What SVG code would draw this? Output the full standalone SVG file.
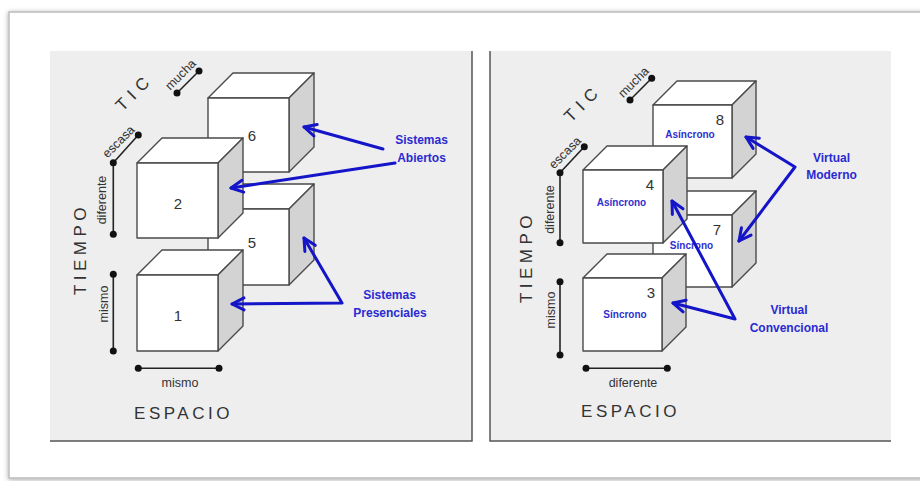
<svg xmlns="http://www.w3.org/2000/svg" width="920" height="481" viewBox="0 0 920 481">
<defs>
<filter id="sh" x="-5%" y="-5%" width="110%" height="110%"><feDropShadow dx="0" dy="1" stdDeviation="2.5" flood-color="#000" flood-opacity="0.35"/></filter>
<marker id="ah" markerUnits="userSpaceOnUse" orient="auto-start-reverse" markerWidth="30" markerHeight="30" refX="0" refY="0" viewBox="-15 -15 30 30" style="overflow:visible"><path d="M-12,-6 L0,0 L-12,6" fill="none" stroke="#1414c8" stroke-width="3" stroke-linecap="round" stroke-linejoin="round"/></marker>
</defs>
<style>
.face{fill:#ffffff;stroke:#4a4a4a;stroke-width:1.4;stroke-linejoin:round}
.side{fill:#d3d3d3;stroke:#4a4a4a;stroke-width:1.4;stroke-linejoin:round}
.num{font-family:"Liberation Sans",Arial,sans-serif;font-size:15px;fill:#333;text-anchor:middle}
.mode{font-family:"Liberation Sans",Arial,sans-serif;font-size:10px;font-weight:bold;fill:#3030d0;text-anchor:middle}
.ax{font-family:"Liberation Sans",Arial,sans-serif;font-size:12.5px;fill:#333;text-anchor:middle}
.big{font-family:"Liberation Sans",Arial,sans-serif;font-size:17px;fill:#333;text-anchor:middle}
.lab{font-family:"Liberation Sans",Arial,sans-serif;font-size:12px;font-weight:bold;fill:#2a2ad2;text-anchor:middle}
.bar{stroke:#222;stroke-width:1.6;fill:none}
.dot{fill:#111}
.arr{fill:none;stroke:#1414c8;stroke-width:3;stroke-linejoin:round;stroke-linecap:round;marker-end:url(#ah)}
.arr2{fill:none;stroke:#1414c8;stroke-width:3;stroke-linejoin:round;stroke-linecap:round;marker-start:url(#ah);marker-end:url(#ah)}
</style>
<rect width="920" height="481" fill="#ffffff"/>
<rect x="9" y="12" width="940" height="466" fill="#ffffff" stroke="#bdbdbd" stroke-width="1.5" filter="url(#sh)"/>
<!-- panels -->
<g id="panel-left">
<rect x="50" y="51" width="422" height="390" fill="#eeeeee"/>
<path d="M472,51 V441 H50" fill="none" stroke="#555" stroke-width="1.5"/>
</g>
<g id="panel-right">
<rect x="490" y="51" width="401" height="390" fill="#eeeeee"/>
<path d="M490,51 V441 H891" fill="none" stroke="#555" stroke-width="1.5"/>
</g>

<!-- left axes -->
<g id="axes-left">
<text class="big" transform="translate(138.5,96) rotate(-45)" letter-spacing="6">TIC</text>
<line class="bar" x1="177" y1="93" x2="199" y2="71"/><circle class="dot" cx="177" cy="93" r="3.5"/><circle class="dot" cx="199" cy="71" r="3.5"/>
<text class="ax" transform="translate(183.5,77.5) rotate(-45)">mucha</text>
<line class="bar" x1="113.3" y1="162.7" x2="138.3" y2="135"/><circle class="dot" cx="138.3" cy="135" r="3.5"/>
<text class="ax" transform="translate(121.5,144.5) rotate(-45)">escasa</text>
<line class="bar" x1="113.3" y1="162.7" x2="113.3" y2="234.3"/><circle class="dot" cx="113.3" cy="162.7" r="3.5"/><circle class="dot" cx="113.3" cy="234.3" r="3.5"/>
<text class="ax" transform="translate(106,200) rotate(-90)">diferente</text>
<line class="bar" x1="113.3" y1="274.3" x2="113.3" y2="351"/><circle class="dot" cx="113.3" cy="274.3" r="3.5"/><circle class="dot" cx="113.3" cy="351" r="3.5"/>
<text class="ax" transform="translate(108,304) rotate(-90)">mismo</text>
<text class="big" transform="translate(86,249) rotate(-90)" letter-spacing="4.5">TIEMPO</text>
<line class="bar" x1="138.3" y1="368.3" x2="219" y2="368.3"/><circle class="dot" cx="138.3" cy="368.3" r="3.5"/><circle class="dot" cx="219" cy="368.3" r="3.5"/>
<text class="ax" x="180" y="387">mismo</text>
<text class="big" x="183.5" y="418.5" letter-spacing="3.5">ESPACIO</text>
</g>

<!-- left cubes -->
<g id="cube-6">
<polygon class="face" points="208,98 289,98 314,73 233,73"/>
<polygon class="side" points="289,98 314,73 314,147 289,172"/>
<rect class="face" x="208" y="98" width="81" height="74"/>
<text class="num" x="252" y="141">6</text>
</g>
<g id="cube-5">
<polygon class="face" points="208,209 289,209 314,184 233,184"/>
<polygon class="side" points="289,209 314,184 314,260 289,285"/>
<rect class="face" x="208" y="209" width="81" height="76"/>
<text class="num" x="252" y="248">5</text>
</g>
<g id="cube-2">
<polygon class="face" points="137,163 218,163 243,138 162,138"/>
<polygon class="side" points="218,163 243,138 243,213 218,238"/>
<rect class="face" x="137" y="163" width="81" height="75"/>
<text class="num" x="178" y="209">2</text>
</g>
<g id="cube-1">
<polygon class="face" points="137,275 218,275 243,250 162,250"/>
<polygon class="side" points="218,275 243,250 243,326 218,351"/>
<rect class="face" x="137" y="275" width="81" height="76"/>
<text class="num" x="178" y="321">1</text>
</g>

<!-- right axes -->
<g id="axes-right">
<text class="big" transform="translate(587,107) rotate(-45)" letter-spacing="6">TIC</text>
<line class="bar" x1="630" y1="100" x2="651.7" y2="78.3"/><circle class="dot" cx="630" cy="100" r="3.5"/><circle class="dot" cx="651.7" cy="78.3" r="3.5"/>
<text class="ax" transform="translate(636.5,85) rotate(-45)">mucha</text>
<line class="bar" x1="560" y1="172.7" x2="584.3" y2="146.7"/><circle class="dot" cx="584.3" cy="146.7" r="3.5"/>
<text class="ax" transform="translate(568,155.5) rotate(-45)">escasa</text>
<line class="bar" x1="560" y1="172.7" x2="560" y2="242.7"/><circle class="dot" cx="560" cy="172.7" r="3.5"/><circle class="dot" cx="560" cy="242.7" r="3.5"/>
<text class="ax" transform="translate(553.5,209.5) rotate(-90)">diferente</text>
<line class="bar" x1="560" y1="281.7" x2="560" y2="355"/><circle class="dot" cx="560" cy="281.7" r="3.5"/><circle class="dot" cx="560" cy="355" r="3.5"/>
<text class="ax" transform="translate(555,310) rotate(-90)">mismo</text>
<text class="big" transform="translate(532,257) rotate(-90)" letter-spacing="4.5">TIEMPO</text>
<line class="bar" x1="586" y1="368.3" x2="667.3" y2="368.3"/><circle class="dot" cx="586" cy="368.3" r="3.5"/><circle class="dot" cx="667.3" cy="368.3" r="3.5"/>
<text class="ax" x="633" y="387">diferente</text>
<text class="big" x="630.5" y="417" letter-spacing="3.5">ESPACIO</text>
</g>

<!-- right cubes -->
<g id="cube-8">
<polygon class="face" points="653,105 732,105 756,81 677,81"/>
<polygon class="side" points="732,105 756,81 756,154 732,178"/>
<rect class="face" x="653" y="105" width="79" height="73"/>
<text class="num" x="720" y="125">8</text>
<text class="mode" x="690" y="137.5">Asíncrono</text>
</g>
<g id="cube-7">
<polygon class="face" points="653,215 732,215 756,191 677,191"/>
<polygon class="side" points="732,215 756,191 756,263 732,287"/>
<rect class="face" x="653" y="215" width="79" height="72"/>
<text class="num" x="717" y="235">7</text>
<text class="mode" x="691.5" y="248.5">Síncrono</text>
</g>
<g id="cube-4">
<polygon class="face" points="583,170 663,170 687,146 607,146"/>
<polygon class="side" points="663,170 687,146 687,219 663,243"/>
<rect class="face" x="583" y="170" width="80" height="73"/>
<text class="num" x="650" y="190">4</text>
<text class="mode" x="621.5" y="206">Asíncrono</text>
</g>
<g id="cube-3">
<polygon class="face" points="583,278 662,278 686,254 607,254"/>
<polygon class="side" points="662,278 686,254 686,327 662,351"/>
<rect class="face" x="583" y="278" width="79" height="73"/>
<text class="num" x="651" y="298">3</text>
<text class="mode" x="625" y="318">Síncrono</text>
</g>

<!-- labels -->
<g id="label-abiertos"><text class="lab" x="421.5" y="144">Sistemas</text><text class="lab" x="421.5" y="161.5">Abiertos</text></g>
<g id="label-presenciales"><text class="lab" x="389.5" y="299">Sistemas</text><text class="lab" x="390" y="316.5">Presenciales</text></g>
<g id="label-moderno"><text class="lab" x="831.5" y="161.5">Virtual</text><text class="lab" x="831.5" y="178.5">Moderno</text></g>
<g id="label-convencional"><text class="lab" x="789" y="314">Virtual</text><text class="lab" x="789" y="331.5">Convencional</text></g>

<!-- connectors -->
<g id="connectors">
<polyline class="arr" points="383,149 304,127"/>
<polyline class="arr" points="395,163 231,188"/>
<polyline class="arr2" points="304,238 342,303 232,304"/>
<polyline class="arr2" points="746,137 795,167 739,241"/>
<polyline class="arr2" points="672,201 735,319 673,303"/>
</g>
</svg>
